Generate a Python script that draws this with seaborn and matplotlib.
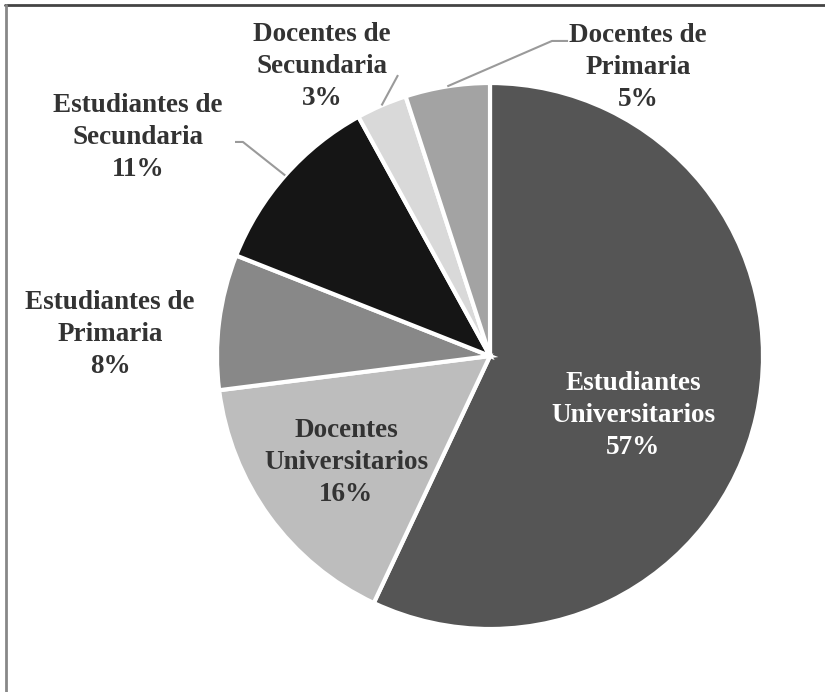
import numpy as np
import matplotlib
matplotlib.use("Agg")
import matplotlib.pyplot as plt
import seaborn as sns
from matplotlib.lines import Line2D

sns.set_theme(style="white")
plt.rcParams["font.family"] = ["Liberation Serif", "DejaVu Serif"]

# --- datos ---
categorias = ["Estudiantes\nUniversitarios", "Docentes\nUniversitarios", "Estudiantes de\nPrimaria",
              "Estudiantes de\nSecundaria", "Docentes de\nSecundaria", "Docentes de\nPrimaria"]
porcentajes = [57, 16, 8, 11, 3, 5]
colores = ["#555555", "#bdbdbd", "#888888", "#151515", "#d9d9d9", "#a3a3a3"]

# posiciones de las etiquetas (layout) y color del texto
label_pos = [(0.524, -0.218), (-0.527, -0.391), (-1.392, 0.078),
             (-1.289, 0.80), (-0.615, 1.06), (0.542, 1.057)]
text_col = ["white", "#333333", "#333333", "#333333", "#333333", "#333333"]

fig = plt.figure(figsize=(8.25, 6.92), dpi=100)
ax = fig.add_axes([217 / 825, 63 / 692, 546 / 825, 546 / 692])

wedges, _ = ax.pie(porcentajes, colors=colores, startangle=90, counterclock=False,
                   radius=1, wedgeprops=dict(edgecolor="white", linewidth=3))
ax.set_xlim(-1, 1)
ax.set_ylim(-1, 1)
ax.set_aspect("auto")
ax.axis("off")

for i, (cat, val) in enumerate(zip(categorias, porcentajes)):
    x, y = label_pos[i]
    ax.text(x, y, f"{cat}\n{val}%", ha="center", va="center", fontsize=19.5,
            fontweight="bold", color=text_col[i], linespacing=1.36, clip_on=False)

# líneas guía para las porciones pequeñas
guia = {3: (-0.905, 0.784, -0.934), 4: (-0.337, 1.029, None), 5: (0.227, 1.154, 0.286)}
for i, (gx, gy, hx) in guia.items():
    w = wedges[i]
    ang = np.deg2rad((w.theta1 + w.theta2) / 2)
    px, py = np.cos(ang), np.sin(ang)
    xs, ys = [px, gx], [py, gy]
    if hx is not None:
        xs.append(hx)
        ys.append(gy)
    ax.plot(xs, ys, color="#9a9a9a", lw=1.5, clip_on=False, solid_capstyle="butt")

# marco del recuadro (solo arriba e izquierda visibles)
fig.add_artist(Line2D([5 / 825, 1.0], [1 - 4.5 / 692, 1 - 4.5 / 692], color="#444444", lw=2))
fig.add_artist(Line2D([5.5 / 825, 5.5 / 825], [0, 1 - 4.5 / 692], color="#888888", lw=2))

fig.savefig("out.png", dpi=100, facecolor="white")
